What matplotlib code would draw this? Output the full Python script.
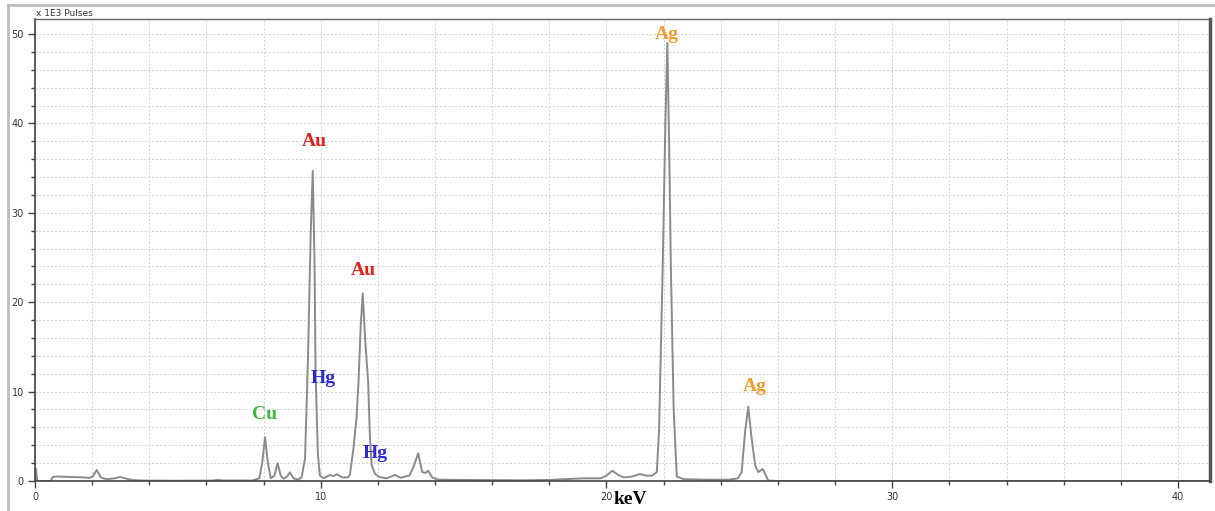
import matplotlib
matplotlib.use("Agg")
import matplotlib.pyplot as plt
from matplotlib.lines import Line2D
from matplotlib.ticker import MultipleLocator

# spectrum trace (keV, x1E3 pulses)
energy = [
    0.00, 0.03, 0.08, 0.55, 0.62, 0.8, 1.2, 1.6, 1.9, 2.02, 2.16, 2.3, 2.5, 2.8,
    2.97, 3.15, 3.4, 3.8, 5.0, 6.2, 6.4, 6.6, 7.6, 7.85, 7.95, 8.05, 8.15, 8.25,
    8.38, 8.49, 8.6, 8.7, 8.82, 8.92, 9.05, 9.2, 9.33, 9.45, 9.56, 9.65, 9.72,
    9.78, 9.82, 9.9, 9.97, 10.1, 10.32, 10.45, 10.57, 10.75, 10.95, 11.02, 11.14,
    11.25, 11.32, 11.4, 11.47, 11.55, 11.66, 11.72, 11.78, 11.9, 12.05, 12.3,
    12.6, 12.8, 12.95, 13.1, 13.25, 13.41, 13.55, 13.66, 13.76, 13.9, 14.1, 15.0,
    16.0, 17.0, 18.0, 18.5, 19.2, 19.8, 20.0, 20.2, 20.4, 20.6, 20.9, 21.17, 21.4,
    21.6, 21.76, 21.84, 21.97, 22.06, 22.13, 22.19, 22.25, 22.35, 22.46, 22.7,
    23.5, 24.3, 24.6, 24.73, 24.85, 24.96, 25.07, 25.2, 25.31, 25.47, 25.58,
    25.66, 26.0, 41.1,
]
pulses = [
    0.0, 1.4, 0.0, 0.0, 0.45, 0.5, 0.45, 0.42, 0.35, 0.5, 1.23, 0.4, 0.2, 0.3,
    0.45, 0.3, 0.1, 0.05, 0.03, 0.05, 0.12, 0.05, 0.05, 0.3, 2.0, 4.9, 2.0, 0.3,
    0.6, 1.98, 0.6, 0.25, 0.5, 0.97, 0.3, 0.15, 0.4, 2.5, 14.6, 28.0, 34.7,
    25.0, 12.0, 3.0, 0.6, 0.3, 0.67, 0.55, 0.75, 0.4, 0.4, 0.7, 3.5,
    7.0, 11.0, 17.5, 21.0, 16.0, 11.0, 5.0, 1.8, 0.8, 0.45, 0.3,
    0.67, 0.35, 0.5, 0.6, 1.6, 3.1, 1.0, 0.9, 1.15, 0.4, 0.15, 0.12,
    0.1, 0.08, 0.12, 0.2, 0.3, 0.3, 0.6, 1.15, 0.7, 0.4, 0.5, 0.78, 0.6,
    0.6, 1.0, 5.7, 24.4, 40.0, 49.0, 38.0, 24.4, 8.0, 0.5, 0.2,
    0.15, 0.15, 0.3, 1.0, 5.5, 8.3, 5.0, 1.8, 1.0, 1.34, 0.6,
    0.05, 0.0, 0.0,
]

# element labels: text, keV, height, colour
label_text = ["Ag", "Au", "Au", "Hg", "Hg", "Cu", "Ag"]
label_x = [22.1, 9.76, 11.48, 10.08, 11.9, 8.05, 25.2]
label_y = [49.0, 37.0, 22.6, 10.5, 2.1, 6.45, 9.6]
label_color = ["#F39A2B", "#E2231A", "#E2231A", "#2A2ACF", "#2A2ACF", "#3DB83A", "#F39A2B"]

fig = plt.figure(figsize=(12.15, 5.11), dpi=100)
ax = fig.add_axes([35 / 1215, 1 - 481 / 511, 1175 / 1215, 462 / 511])

ax.plot(energy, pulses, color="#8a8a8a", lw=1.4)

for txt, x, y, c in zip(label_text, label_x, label_y, label_color):
    ax.text(x, y, txt, color=c, ha="center", va="bottom", fontsize=14,
            fontweight="bold", family="Liberation Serif")

ax.set_xlim(0, 41.12)
ax.set_ylim(0, 51.68)
ax.xaxis.set_major_locator(MultipleLocator(10))
ax.xaxis.set_minor_locator(MultipleLocator(2))
ax.yaxis.set_major_locator(MultipleLocator(10))
ax.yaxis.set_minor_locator(MultipleLocator(2))
ax.grid(which="both", color="#d2d2d2", ls=(0, (2, 2)), lw=0.7)
ax.tick_params(which="major", direction="out", length=5, width=1, color="#444444",
               labelsize=7, labelcolor="#333333", pad=3)
ax.tick_params(which="minor", direction="out", length=3, width=1, color="#444444")

for side in ("left", "bottom"):
    ax.spines[side].set_color("#444444")
    ax.spines[side].set_linewidth(1.2)
ax.spines["top"].set_color("#666666")
ax.spines["top"].set_linewidth(1.0)
ax.spines["right"].set_color("#555555")
ax.spines["right"].set_linewidth(2.5)

fig.text(630 / 1215, 3 / 511, "keV", fontsize=14, fontweight="bold",
         family="Liberation Serif", ha="center", va="bottom")
fig.text(36 / 1215, 1 - 13 / 511, "x 1E3 Pulses", fontsize=6.5, color="#333333",
         va="center", ha="left")

# outer frame of the screenshot
fig.add_artist(Line2D([8 / 1215, 1], [1 - 5 / 511, 1 - 5 / 511], color="#bdbdbd",
                      lw=2, transform=fig.transFigure))
fig.add_artist(Line2D([8 / 1215, 8 / 1215], [0, 1 - 5 / 511], color="#bdbdbd",
                      lw=2, transform=fig.transFigure))

fig.savefig("out.png", dpi=100)
